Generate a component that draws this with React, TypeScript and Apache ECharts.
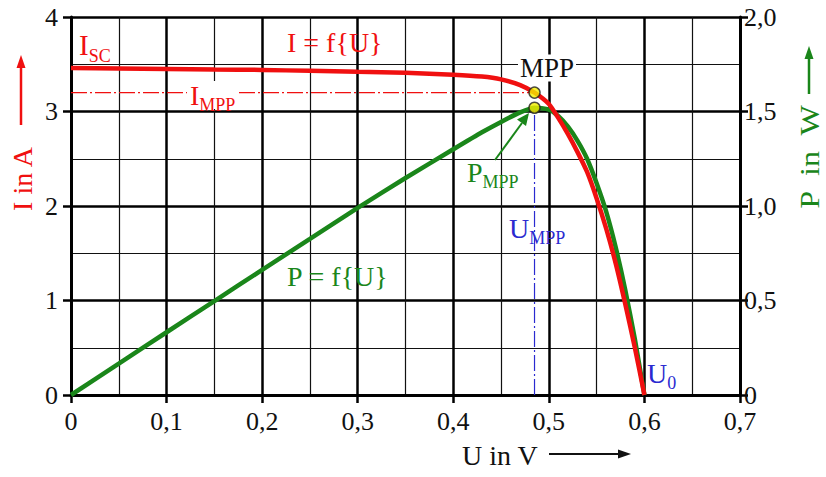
import React, { useEffect, useRef } from "react";
import * as echarts from "echarts";

// Voltage samples (V)
const voltage = [0, 0.05, 0.1, 0.15, 0.2, 0.25, 0.3, 0.35, 0.4, 0.43, 0.45, 0.47, 0.485, 0.5, 0.51, 0.52, 0.53, 0.54, 0.55, 0.56, 0.57, 0.58, 0.59, 0.6];
// Current I = f(U) in A
const current = [3.46, 3.455, 3.45, 3.445, 3.44, 3.43, 3.42, 3.41, 3.39, 3.37, 3.34, 3.28, 3.2, 3.08, 2.93, 2.76, 2.57, 2.36, 2.08, 1.76, 1.39, 0.96, 0.5, 0];
// Power P = f(U) in W
const power = [0, 0.166, 0.332, 0.497, 0.662, 0.826, 0.99, 1.148, 1.3, 1.39, 1.445, 1.495, 1.52, 1.51, 1.475, 1.42, 1.345, 1.25, 1.12, 0.97, 0.78, 0.555, 0.295, 0];
// Maximum power point
const mppU = 0.485;
const mppI = 3.2;
const mppP = 1.52;

const FONT = "'Liberation Serif', 'Times New Roman', serif";
const RED = "#f01010";
const GREEN = "#1a861a";
const BLUE = "#2a2ad0";

const fmt = (v: number) => (v === 0 ? "0" : v.toFixed(1).replace(".", ","));

export default function App() {
  const ref = useRef<HTMLDivElement>(null);
  useEffect(() => {
    if (!ref.current) return;
    const chart = echarts.init(ref.current, null, { renderer: "svg" });
    const sub = (big: number, small: number, color: string) => ({
      m: { fontSize: big, fill: color, fontFamily: FONT },
      s: { fontSize: small, fill: color, fontFamily: FONT, verticalAlign: "bottom", padding: [0, 0, -5, 0] },
    });
    chart.setOption({
      animation: false,
      backgroundColor: "#fff",
      grid: { left: 71, right: 86, top: 17, bottom: 82, containLabel: false },
      xAxis: {
        type: "value",
        min: 0,
        max: 0.7,
        interval: 0.1,
        axisLine: { show: true, onZero: false, lineStyle: { color: "#000", width: 3 } },
        axisTick: { show: true, length: 8, lineStyle: { color: "#000", width: 2.5 } },
        axisLabel: { formatter: fmt, fontFamily: FONT, fontSize: 26, color: "#111", margin: 13 },
        splitLine: { show: true, lineStyle: { color: "#000", width: 2.5 } },
        minorTick: { show: false, splitNumber: 2 },
        minorSplitLine: { show: true, lineStyle: { color: "#111", width: 1.2 } },
      },
      yAxis: [
        {
          type: "value",
          min: 0,
          max: 4,
          interval: 1,
          position: "left",
          axisLine: { show: true, lineStyle: { color: "#000", width: 3 } },
          axisTick: { show: true, length: 8, lineStyle: { color: "#000", width: 2.5 } },
          axisLabel: { fontFamily: FONT, fontSize: 26, color: "#111", margin: 13 },
          splitLine: { show: true, lineStyle: { color: "#000", width: 2.5 } },
          minorTick: { show: false, splitNumber: 2 },
          minorSplitLine: { show: true, lineStyle: { color: "#111", width: 1.2 } },
        },
        {
          type: "value",
          min: 0,
          max: 2,
          interval: 0.5,
          position: "right",
          axisLine: { show: true, lineStyle: { color: "#000", width: 3 } },
          axisTick: { show: true, length: 8, lineStyle: { color: "#000", width: 2.5 } },
          axisLabel: { formatter: fmt, fontFamily: FONT, fontSize: 26, color: "#111", margin: 4 },
          splitLine: { show: false },
        },
      ],
      series: [
        {
          type: "line",
          yAxisIndex: 0,
          data: [[0, mppI], [mppU, mppI]],
          showSymbol: false,
          lineStyle: { color: RED, width: 1.2, type: [16, 3, 2, 3] },
          z: 3,
        },
        {
          type: "line",
          yAxisIndex: 1,
          data: [[mppU, 0], [mppU, mppP]],
          showSymbol: false,
          lineStyle: { color: BLUE, width: 1.2, type: [16, 3, 2, 3] },
          z: 3,
        },
        {
          type: "line",
          yAxisIndex: 1,
          data: voltage.map((u, k) => [u, power[k]]),
          showSymbol: false,
          smooth: 0.2,
          lineStyle: { color: GREEN, width: 4.5 },
          z: 4,
        },
        {
          type: "line",
          yAxisIndex: 0,
          data: voltage.map((u, k) => [u, current[k]]),
          showSymbol: false,
          smooth: 0.2,
          lineStyle: { color: RED, width: 4.5 },
          z: 5,
        },
        {
          type: "scatter",
          yAxisIndex: 0,
          data: [[mppU, mppI]],
          symbolSize: 11,
          itemStyle: { color: "#f4f000", borderColor: "#222", borderWidth: 1.5 },
          z: 10,
        },
        {
          type: "scatter",
          yAxisIndex: 1,
          data: [[mppU, mppP]],
          symbolSize: 11,
          itemStyle: { color: "#f4f000", borderColor: "#222", borderWidth: 1.5 },
          z: 10,
        },
      ],
      graphic: [
        { type: "text", x: 79, y: 45, z: 20, style: { text: "{m|I}{s|SC}", rich: sub(29, 18, RED), verticalAlign: "middle" } },
        { type: "text", x: 287, y: 42, z: 20, style: { text: "I = f{U}", fill: RED, fontFamily: FONT, fontSize: 28, verticalAlign: "middle" } },
        { type: "text", x: 187, y: 95, z: 20, style: { text: "{m|I}{s|MPP}", rich: sub(28, 18, RED), verticalAlign: "middle", backgroundColor: "#fff", padding: [0, 3, 0, 3] } },
        { type: "text", x: 518, y: 68, z: 20, style: { text: "MPP", fill: "#111", fontFamily: FONT, fontSize: 27, verticalAlign: "middle", backgroundColor: "#fff", padding: [0, 2, 0, 2] } },
        { type: "text", x: 467, y: 172, z: 20, style: { text: "{m|P}{s|MPP}", rich: sub(28, 18, GREEN), verticalAlign: "middle" } },
        { type: "text", x: 509, y: 228, z: 20, style: { text: "{m|U}{s|MPP}", rich: sub(28, 18, BLUE), verticalAlign: "middle" } },
        { type: "text", x: 287, y: 276, z: 20, style: { text: "P = f{U}", fill: GREEN, fontFamily: FONT, fontSize: 28, verticalAlign: "middle" } },
        { type: "text", x: 647, y: 373, z: 20, style: { text: "{m|U}{s|0}", rich: sub(28, 18, BLUE), verticalAlign: "middle" } },
        // P_MPP arrow
        { type: "line", z: 20, shape: { x1: 495, y1: 160, x2: 522, y2: 123 }, style: { stroke: GREEN, lineWidth: 2 } },
        { type: "polygon", z: 20, shape: { points: [[529, 113], [526, 126], [517, 119.5]] }, style: { fill: GREEN } },
        // Left axis title + arrow
        { type: "text", x: 22, y: 179, rotation: Math.PI / 2, z: 20, style: { text: "I in A", fill: RED, fontFamily: FONT, fontSize: 28, align: "center", verticalAlign: "middle" } },
        { type: "line", z: 20, shape: { x1: 21, y1: 125, x2: 21, y2: 66 }, style: { stroke: RED, lineWidth: 2.5 } },
        { type: "polygon", z: 20, shape: { points: [[21, 55], [16.5, 68], [25.5, 68]] }, style: { fill: RED } },
        // Right axis title + arrow
        { type: "text", x: 810, y: 157, rotation: Math.PI / 2, scaleX: 1.15, z: 20, style: { text: "P  in  W", fill: GREEN, fontFamily: FONT, fontSize: 28, align: "center", verticalAlign: "middle" } },
        { type: "line", z: 20, shape: { x1: 809, y1: 94, x2: 809, y2: 58 }, style: { stroke: GREEN, lineWidth: 2.5 } },
        { type: "polygon", z: 20, shape: { points: [[809, 46], [804.5, 59], [813.5, 59]] }, style: { fill: GREEN } },
        // X axis title + arrow
        { type: "text", x: 462, y: 455, z: 20, style: { text: "U in V", fill: "#111", fontFamily: FONT, fontSize: 28, verticalAlign: "middle" } },
        { type: "line", z: 20, shape: { x1: 549, y1: 454, x2: 620, y2: 454 }, style: { stroke: "#111", lineWidth: 2 } },
        { type: "polygon", z: 20, shape: { points: [[631, 454], [618, 449.5], [618, 458.5]] }, style: { fill: "#111" } },
      ],
    });
    return () => chart.dispose();
  }, []);
  return <div ref={ref} style={{ width: 826, height: 477, position: "absolute", left: 0, top: 0 }} />;
}
